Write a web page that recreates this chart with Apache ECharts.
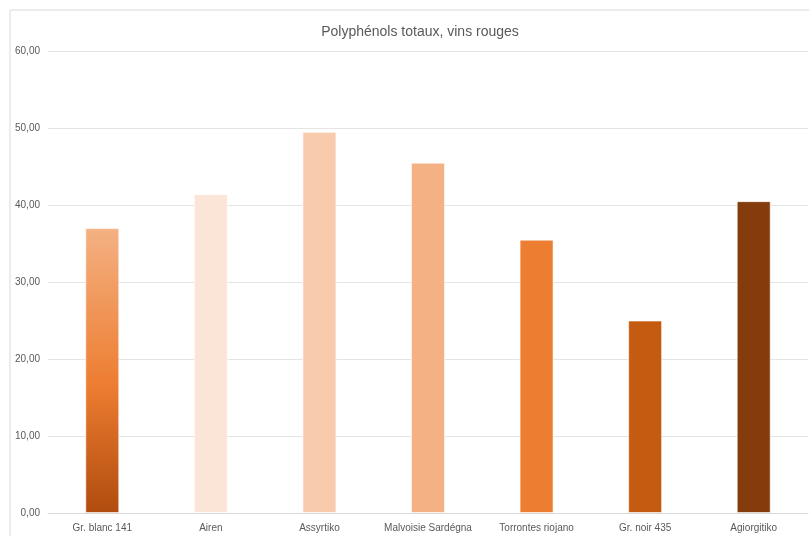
<!DOCTYPE html>
<html>
<head>
<meta charset="utf-8">
<script src="https://cdn.jsdelivr.net/npm/echarts@6/dist/echarts.min.js"></script>
<style>
  html, body { margin: 0; padding: 0; background: #ffffff; }
  #chart { width: 809px; height: 536px; }
</style>
</head>
<body>
<div id="chart"></div>
<script>
// Cépages et teneur en polyphénols totaux
const categories = ['Gr. blanc 141', 'Airen', 'Assyrtiko', 'Malvoisie Sardégna', 'Torrontes riojano', 'Gr. noir 435', 'Agiorgitiko'];
const values = [37.0, 41.4, 49.5, 45.5, 35.5, 25.0, 40.5];
const yTicks = [0, 10, 20, 30, 40, 50, 60];

// Palette orange, du plus clair au plus foncé
const barColors = [
  null, '#FBE5D6', '#F8CBAD', '#F4B183', '#ED7D31', '#C55A11', '#843C0C'
];
const firstBarGradient = new echarts.graphic.LinearGradient(0, 0, 0, 1, [
  { offset: 0, color: '#F4B183' },
  { offset: 0.55, color: '#ED7D31' },
  { offset: 1, color: '#B04C0E' }
]);

const chart = echarts.init(document.getElementById('chart'), null, { renderer: 'canvas' });

const fontFamily = '"Liberation Sans", Arial, sans-serif';

chart.setOption({
  animation: false,
  backgroundColor: '#ffffff',
  graphic: [{
    type: 'rect',
    shape: { x: 10, y: 10, width: 810, height: 540 },
    style: { fill: 'none', stroke: '#d9d9d9', lineWidth: 1 },
    silent: true,
    z: -1
  }],
  title: {
    text: 'Polyphénols totaux, vins rouges',
    left: 415,
    top: 20,
    textAlign: 'center',
    textStyle: { fontFamily: fontFamily, fontSize: 14, fontWeight: 'normal', color: '#595959' }
  },
  grid: { left: 48, right: 1, top: 51, bottom: 23, containLabel: false },
  xAxis: {
    type: 'category',
    data: categories,
    axisLine: { lineStyle: { color: '#d9d9d9' } },
    axisTick: { show: false },
    axisLabel: { fontFamily: fontFamily, fontSize: 10, color: '#595959', margin: 10, interval: 0 }
  },
  yAxis: {
    type: 'value',
    min: yTicks[0],
    max: yTicks[yTicks.length - 1],
    interval: yTicks[1] - yTicks[0],
    axisLine: { show: false },
    axisTick: { show: false },
    splitLine: { lineStyle: { color: '#e4e4e4' } },
    axisLabel: {
      fontFamily: fontFamily, fontSize: 10, color: '#595959', margin: 8,
      formatter: v => v.toFixed(2).replace('.', ',')
    }
  },
  series: [{
    type: 'bar',
    barWidth: 34,
    data: values.map((v, i) => ({
      value: v,
      itemStyle: {
        color: i === 0 ? firstBarGradient : barColors[i],
        borderColor: 'rgba(255,255,255,0.6)',
        borderWidth: 1
      }
    }))
  }]
});
</script>
</body>
</html>
